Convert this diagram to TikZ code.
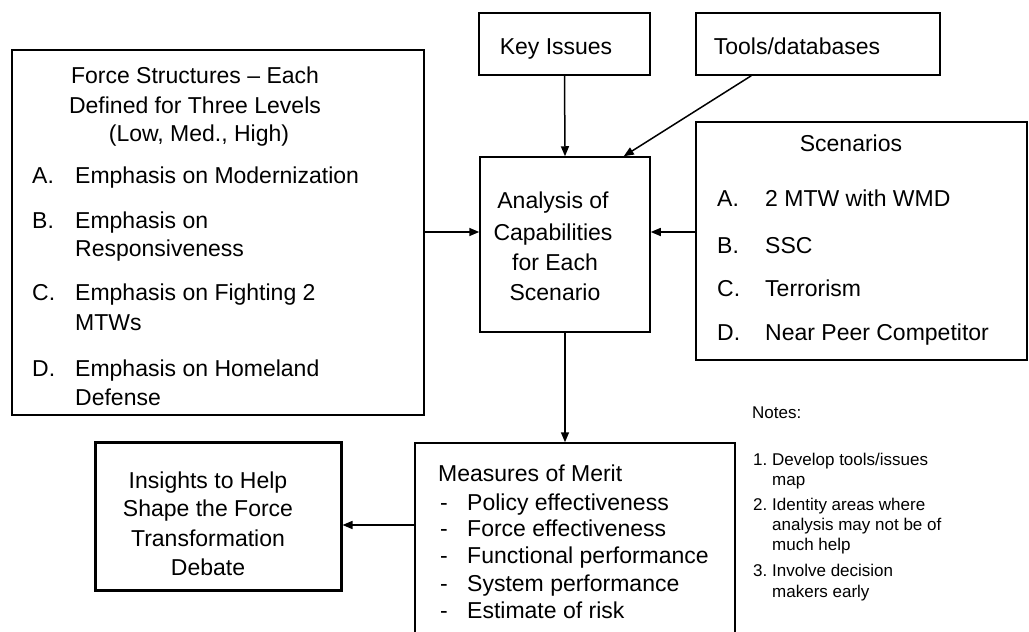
\documentclass[tikz,border=0pt]{standalone}
\usepackage{fontspec}
\setmainfont{Liberation Sans}
\usetikzlibrary{arrows.meta,calc}
\begin{document}
\begin{tikzpicture}[x=1pt,y=-1pt,
  frame/.style={draw, line width=1.5pt, inner sep=0pt},
  boldframe/.style={draw, line width=3pt, inner sep=0pt},
  txt/.style={inner sep=0pt, anchor=mid, yshift=-5.5pt, font=\fontsize{23}{28}\selectfont},
  ltxt/.style={txt, anchor=mid west},
  note/.style={inner sep=0pt, anchor=mid west, yshift=-2pt, font=\fontsize{17}{20}\selectfont},
  arr/.style={line width=1.5pt, -{Triangle[length=10pt,width=8pt]}}]
\useasboundingbox (0,0) rectangle (1029,632);
\clip (0,0) rectangle (1029,632);

% boxes
\node[frame, minimum width=412, minimum height=365] (force) at (218,232.5) {};
\node[frame, minimum width=171, minimum height=62] (key) at (564.5,44) {};
\node[frame, minimum width=244, minimum height=62] (tools) at (818,44) {};
\node[frame, minimum width=170, minimum height=175] (analysis) at (565,244.5) {};
\node[frame, minimum width=331, minimum height=238] (scen) at (861.5,241) {};
\node[frame, minimum width=320, minimum height=207] (merit) at (575,546.5) {};
\node[boldframe, minimum width=246, minimum height=148] (insight) at (218,516) {};

% force structures
\node[txt] (ft1) at (195,75) {Force Structures -- Each};
\node[txt] (ft2) at (195,105) {Defined for Three Levels};
\node[txt] (ft3) at (199,133) {(Low, Med., High)};
\node[ltxt] (fa) at (32,175) {A.};
\node[ltxt] (fat) at (75,175) {Emphasis on Modernization};
\node[ltxt] (fb) at (32,220) {B.};
\node[ltxt] (fbt) at (75,220) {Emphasis on};
\node[ltxt] (fbt2) at (75,248) {Responsiveness};
\node[ltxt] (fc) at (32,292) {C.};
\node[ltxt] (fct) at (75,292) {Emphasis on Fighting 2};
\node[ltxt] (fct2) at (75,322) {MTWs};
\node[ltxt] (fd) at (32,368) {D.};
\node[ltxt] (fdt) at (75,368) {Emphasis on Homeland};
\node[ltxt] (fdt2) at (75,397) {Defense};

% inputs
\node[txt] (keyt) at (556,46) {Key Issues};
\node[txt] (toolst) at (797,46) {Tools/databases};

% analysis
\node[txt] (an1) at (553,200) {Analysis of};
\node[txt] (an2) at (553,232) {Capabilities};
\node[txt] (an3) at (555,262) {for Each};
\node[txt] (an4) at (555,292) {Scenario};

% scenarios
\node[txt] (sct) at (851,143) {Scenarios};
\node[ltxt] (sa) at (717,198) {A.};
\node[ltxt] (sat) at (765,198) {2 MTW with WMD};
\node[ltxt] (sb) at (717,245) {B.};
\node[ltxt] (sbt) at (765,245) {SSC};
\node[ltxt] (sc) at (717,288) {C.};
\node[ltxt] (sct2) at (765,288) {Terrorism};
\node[ltxt] (sd) at (717,332) {D.};
\node[ltxt] (sdt) at (765,332) {Near Peer Competitor};

% measures of merit
\node[ltxt] (mt) at (438,473) {Measures of Merit};
\foreach \y/\t [count=\i] in {502/Policy effectiveness, 528/Force effectiveness,
    555/Functional performance, 583/System performance, 610/Estimate of risk}{
  \node[ltxt] (md\i) at (440,\y) {-};
  \node[ltxt] (mi\i) at (467,\y) {\t};
}

% insights
\node[txt] (in1) at (208,480) {Insights to Help};
\node[txt] (in2) at (208,508) {Shape the Force};
\node[txt] (in3) at (208,538) {Transformation};
\node[txt] (in4) at (208,567) {Debate};

% notes
\node[note] (notes) at (752,414) {Notes:};
\node[note] (n1) at (753,461) {1.};
\node[note] (n1a) at (772,461) {Develop tools/issues};
\node[note] (n1b) at (772,481) {map};
\node[note] (n2) at (753,506) {2.};
\node[note] (n2a) at (772,506) {Identity areas where};
\node[note] (n2b) at (772,526) {analysis may not be of};
\node[note] (n2c) at (772,546) {much help};
\node[note] (n3) at (753,572) {3.};
\node[note] (n3a) at (772,572) {Involve decision};
\node[note] (n3b) at (772,593) {makers early};

% connectors
\coordinate (row) at (0,232);
\coordinate (low) at (0,525);
\draw[arr] (force.east |- row) -- (analysis.west |- row);
\draw[arr] (scen.west |- row) -- (analysis.east |- row);
\draw[arr] (key.south) -- (analysis.north);
\draw[arr] ($(tools.south west)+(56,0)$) -- ($(analysis.north east)+(-27,0)$);
\draw[arr] (analysis.south) -- (analysis.south |- merit.north);
\draw[arr] (merit.west |- low) -- (insight.east |- low);
\end{tikzpicture}
\end{document}
